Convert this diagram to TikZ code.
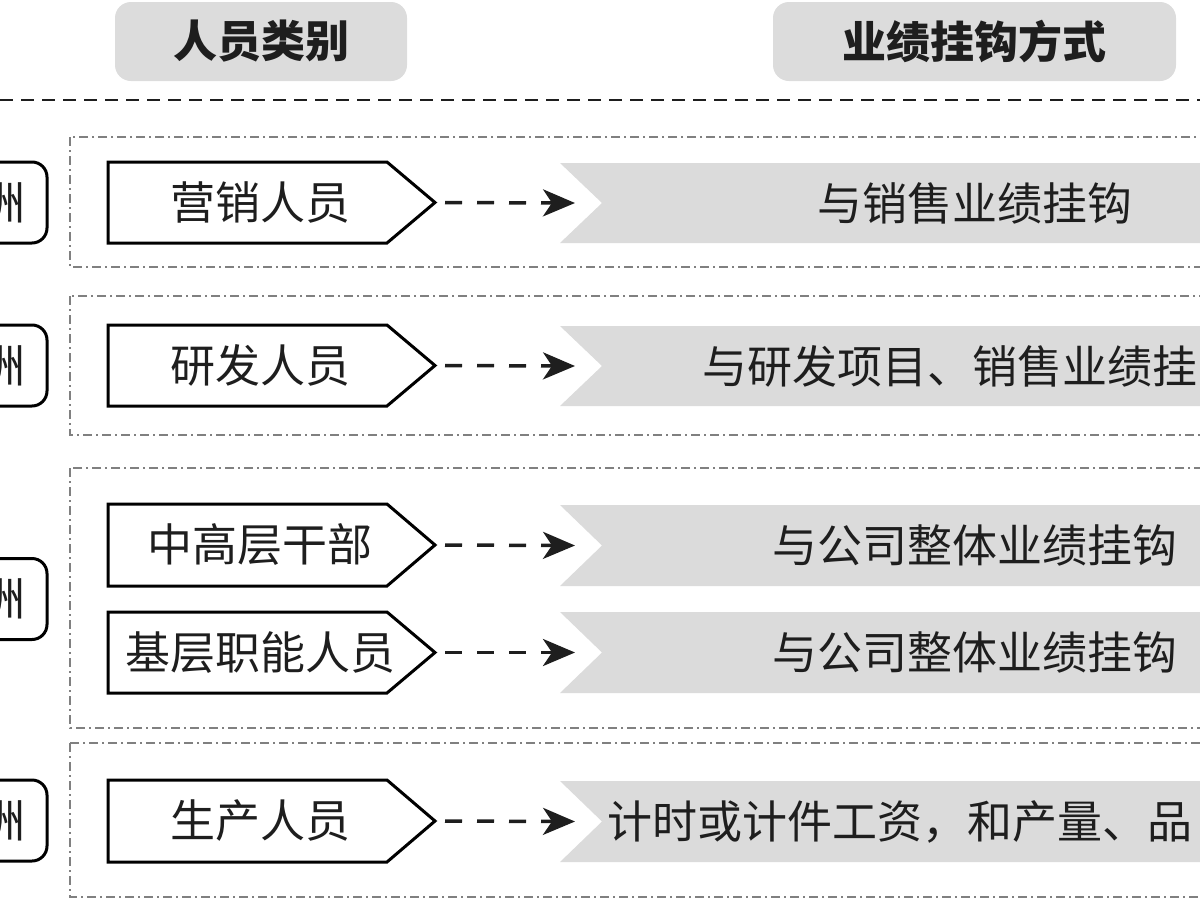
\documentclass[tikz,border=0pt]{standalone}
\usepackage{fontspec}
\newfontfamily\cjk{Noto Sans CJK SC}
\usetikzlibrary{arrows.meta}
\definecolor{hdrgray}{HTML}{DCDCDC}
\definecolor{bargray}{HTML}{DBDBDB}
\definecolor{grpgray}{HTML}{808080}
\definecolor{inkcol}{HTML}{1E1E1E}
\newcommand{\mypent}[4]{%
  \draw[pent] (108,#2) -- (387,#2) -- (435,{(#2+#3)/2}) -- (387,#3) -- (108,#3) -- cycle;
  \node[txt] (#1) at (260,{(#2+#3)/2}) {#4};
  \coordinate (#1tip) at (435,{(#2+#3)/2});
}
\newcommand{\mybar}[3]{%
  \fill[bar] (560,#2) -- (1260,#2) -- (1260,#3) -- (560,#3) -- (602,{(#2+#3)/2}) -- cycle;
  \coordinate (#1in) at (575,{(#2+#3)/2});
}
\begin{document}
\begin{tikzpicture}[x=1pt,y=-1pt,
  txt/.style={font=\cjk\fontsize{45}{50}\selectfont, text=inkcol, inner sep=0pt},
  htxt/.style={font=\cjk\bfseries\fontsize{44}{50}\selectfont, text=inkcol, inner sep=0pt},
  hdr/.style={fill=hdrgray, rounded corners=16pt, minimum height=79pt},
  grp/.style={draw=grpgray, line width=1.8pt, dash pattern=on 9pt off 4pt on 2pt off 4pt},
  pent/.style={draw=black, line width=3pt, fill=white, line join=miter},
  bar/.style={fill=bargray},
  arr/.style={draw=inkcol, line width=3.5pt, dash pattern=on 17pt off 15pt, -{Stealth[length=32pt,width=27pt,inset=9pt]}},
  reg/.style={draw=black, line width=3pt, rounded corners=15pt, minimum width=88pt, minimum height=81pt}
]
\useasboundingbox (0,0) rectangle (1200,900);
\clip (0,0) rectangle (1200,900);

% headers
\node[hdr, htxt, minimum width=292pt, minimum height=79pt] (h1) at (261,41.5) {人员类别};
\node[hdr, htxt, minimum width=403pt, minimum height=79pt] (h2) at (974.5,41.5) {业绩挂钩方式};

% separator
\coordinate (sepL) at (0,100);
\coordinate (sepR) at (1200,100);
\draw[inkcol, line width=2.5pt, dash pattern=on 13pt off 8pt] (sepL) -- (sepR);

% groups
\draw[grp] (70,137) rectangle (1260,267);
\draw[grp] (70,296) rectangle (1260,435);
\draw[grp] (70,468) rectangle (1260,728);
\draw[grp] (70,743) rectangle (1260,897);

% region boxes
\node[reg, txt] (r1) at (3,202.5) {洲};
\node[reg, txt] (r2) at (3,365.5) {洲};
\node[reg, txt] (r3) at (3,599) {洲};
\node[reg, txt] (r4) at (3,820.5) {洲};

% bars
\mybar{b1}{163}{243}
\mybar{b2}{326}{406}
\mybar{b3}{505}{586}
\mybar{b4}{612}{693}
\mybar{b5}{781}{862}

\node[txt] (t1) at (975,203) {与销售业绩挂钩};
\node[txt, anchor=west] (t2) at (702,366) {与研发项目、销售业绩挂};
\node[txt] (t3) at (975,545.5) {与公司整体业绩挂钩};
\node[txt] (t4) at (975,652.5) {与公司整体业绩挂钩};
\node[txt, anchor=west] (t5) at (607,821.5) {计时或计件工资，和产量、品};

% pentagons
\mypent{p1}{162}{243}{营销人员}
\mypent{p2}{325}{406}{研发人员}
\mypent{p3}{504}{586}{中高层干部}
\mypent{p4}{612}{693}{基层职能人员}
\mypent{p5}{780}{862}{生产人员}

% arrows
\draw[arr] ([xshift=10pt]p1tip) -- (b1in);
\draw[arr] ([xshift=10pt]p2tip) -- (b2in);
\draw[arr] ([xshift=10pt]p3tip) -- (b3in);
\draw[arr] ([xshift=10pt]p4tip) -- (b4in);
\draw[arr] ([xshift=10pt]p5tip) -- (b5in);
\end{tikzpicture}
\end{document}
